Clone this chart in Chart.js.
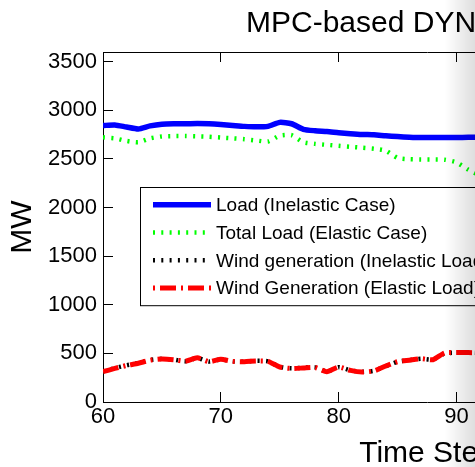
<!DOCTYPE html>
<html>
<head>
<meta charset="utf-8">
<script src="https://cdn.jsdelivr.net/npm/chart.js@4.4.1/dist/chart.umd.min.js"></script>
<style>
  html, body { margin: 0; padding: 0; background: #fff; overflow: hidden; }
  #wrap { position: relative; width: 475px; height: 467px; overflow: hidden; }
  #chart { position: absolute; left: 0; top: 0; }
  #edge {
    position: absolute; top: 0; right: 0; width: 30px; height: 100%;
    background: linear-gradient(to right, rgba(0,0,0,0), rgba(0,0,0,0.13));
    pointer-events: none;
  }
</style>
</head>
<body>
<div id="wrap">
  <canvas id="chart" width="800" height="467"></canvas>
  <div id="edge"></div>
</div>
<script>
const FONT = '"Liberation Sans", Arial, Helvetica, sans-serif';

const titleText = 'MPC-based DYNAMIC PRICING';
const xTitle = 'Time Step';
const yTitle = 'MW';

const timeSteps = [60, 61, 62, 63, 64, 65, 66, 67, 68, 69, 70, 71, 72, 73, 74, 75, 76,
  77, 78, 79, 80, 81, 82, 83, 84, 85, 86, 87, 88, 89, 90, 91, 92];

const loadInelastic = [2843, 2850, 2828, 2808, 2840, 2858, 2862, 2862, 2864, 2862, 2855,
  2845, 2835, 2830, 2835, 2876, 2862, 2805, 2790, 2782, 2770, 2760, 2752, 2748, 2738,
  2730, 2724, 2720, 2720, 2720, 2721, 2722, 2722];

const totalLoadElastic = [2722, 2712, 2685, 2672, 2712, 2732, 2735, 2735, 2732, 2728, 2720,
  2712, 2703, 2690, 2680, 2740, 2745, 2672, 2655, 2645, 2635, 2625, 2615, 2605, 2585,
  2510, 2497, 2495, 2495, 2492, 2465, 2390, 2330];

const windInelastic = [315, 348, 378, 400, 432, 444, 436, 418, 452, 416, 438, 418, 415,
  424, 418, 362, 346, 352, 356, 314, 358, 326, 310, 322, 368, 414, 430, 444, 436, 500,
  506, 508, 505];

const windElastic = [312, 345, 375, 398, 430, 442, 435, 420, 455, 415, 440, 418, 415, 422,
  418, 360, 345, 350, 355, 312, 360, 325, 308, 320, 370, 415, 430, 445, 435, 505, 508,
  508, 505];

const yTicks = [0, 500, 1000, 1500, 2000, 2500, 3000, 3500];

const toPoints = (ys) => ys.map((y, i) => ({ x: timeSteps[i], y }));

// MATLAB-style legend drawn inside the axes, with a framed white box
const axesLegend = {
  id: 'axesLegend',
  afterDatasetsDraw(chart) {
    const { ctx, chartArea } = chart;
    const left = chartArea.left + 37;
    const top = chartArea.top + 135;
    const rowH = 27.8;
    const sample = 58;
    ctx.save();
    ctx.font = '19px ' + FONT;
    const textW = Math.max(...chart.data.datasets.map((d) => ctx.measureText(d.label).width));
    const w = 13 + sample + 5 + textW + 12;
    const h = rowH * chart.data.datasets.length + 7;
    ctx.fillStyle = '#fff';
    ctx.fillRect(left, top, w, h);
    ctx.strokeStyle = '#000';
    ctx.lineWidth = 1;
    ctx.strokeRect(left + 0.5, top + 0.5, w, h);
    chart.data.datasets.forEach((ds, i) => {
      const y = top + 17.7 + i * rowH;
      ctx.beginPath();
      ctx.setLineDash(ds.borderDash || []);
      ctx.lineDashOffset = ds.legendDashOffset || 0;
      ctx.strokeStyle = ds.borderColor;
      ctx.lineWidth = ds.borderWidth;
      ctx.moveTo(left + 13, y);
      ctx.lineTo(left + 13 + sample, y);
      ctx.stroke();
      ctx.setLineDash([]);
      ctx.fillStyle = '#000';
      ctx.textAlign = 'left';
      ctx.textBaseline = 'middle';
      ctx.fillText(ds.label, left + 13 + sample + 5, y + 1);
    });
    ctx.restore();
  },
};

// Figure title, left-anchored above the axes
const figureTitle = {
  id: 'figureTitle',
  afterDraw(chart) {
    const { ctx, chartArea } = chart;
    ctx.save();
    ctx.font = '30px ' + FONT;
    ctx.fillStyle = '#000';
    ctx.textAlign = 'left';
    ctx.textBaseline = 'alphabetic';
    ctx.fillText(titleText, chartArea.left + 143, chartArea.top - 20);
    ctx.restore();
  },
};

const tickFont = { family: FONT, size: 22 };
const plainNumber = (v) => String(v);

new Chart(document.getElementById('chart'), {
  type: 'line',
  data: {
    datasets: [
      {
        label: 'Load (Inelastic Case)',
        data: toPoints(loadInelastic),
        borderColor: '#0000ff',
        borderWidth: 5.5,
        order: 0,
      },
      {
        label: 'Total Load (Elastic Case)',
        data: toPoints(totalLoadElastic),
        borderColor: '#00ff00',
        borderWidth: 4.5,
        borderDash: [2, 6.3],
        order: 0,
      },
      {
        label: 'Wind generation (Inelastic Load)',
        data: toPoints(windInelastic),
        borderColor: '#000000',
        borderWidth: 4.5,
        borderDash: [2, 6.3],
        order: 2,
      },
      {
        label: 'Wind Generation (Elastic Load)',
        data: toPoints(windElastic),
        borderColor: '#ff0000',
        borderWidth: 5,
        borderDash: [16, 5, 2, 5],
        legendDashOffset: 21,
        order: 1,
      },
    ],
  },
  options: {
    responsive: false,
    animation: false,
    events: [],
    layout: { padding: { top: 52, right: 49, left: 0, bottom: 0 } },
    elements: {
      point: { radius: 0 },
      line: { tension: 0.2, fill: false, borderCapStyle: 'butt' },
    },
    plugins: {
      legend: { display: false },
      tooltip: { enabled: false },
      title: { display: false },
    },
    scales: {
      x: {
        type: 'linear',
        position: 'bottom',
        min: 60,
        max: 115,
        afterFit: (s) => { s.height = 65; },
        grid: { drawOnChartArea: false, tickLength: -10, color: '#000', tickColor: '#000' },
        border: { color: '#000', width: 1 },
        ticks: {
          stepSize: 10,
          autoSkip: false,
          maxRotation: 0,
          padding: 12,
          color: '#000',
          font: tickFont,
          callback: plainNumber,
        },
        title: {
          display: true,
          text: xTitle,
          color: '#000',
          font: { family: FONT, size: 30, lineHeight: 1 },
          padding: { top: 0, bottom: -2 },
        },
      },
      xTop: {
        type: 'linear',
        position: 'top',
        min: 60,
        max: 115,
        afterFit: (s) => { s.height = 0; },
        grid: { drawOnChartArea: false, tickLength: -10, color: '#000', tickColor: '#000' },
        border: { color: '#000', width: 1 },
        ticks: { display: false, stepSize: 10 },
      },
      y: {
        type: 'linear',
        position: 'left',
        min: 0,
        max: 3600,
        afterFit: (s) => { s.width = 103; },
        afterBuildTicks: (s) => { s.ticks = yTicks.map((v) => ({ value: v })); },
        grid: { drawOnChartArea: false, tickLength: -10, color: '#000', tickColor: '#000' },
        border: { color: '#000', width: 1 },
        ticks: {
          padding: 16,
          color: '#000',
          font: tickFont,
          callback: plainNumber,
        },
        title: {
          display: true,
          text: yTitle,
          color: '#000',
          font: { family: FONT, size: 30, lineHeight: 1 },
          padding: { top: 8, bottom: 0 },
        },
      },
    },
  },
  plugins: [axesLegend, figureTitle],
});
</script>
</body>
</html>
